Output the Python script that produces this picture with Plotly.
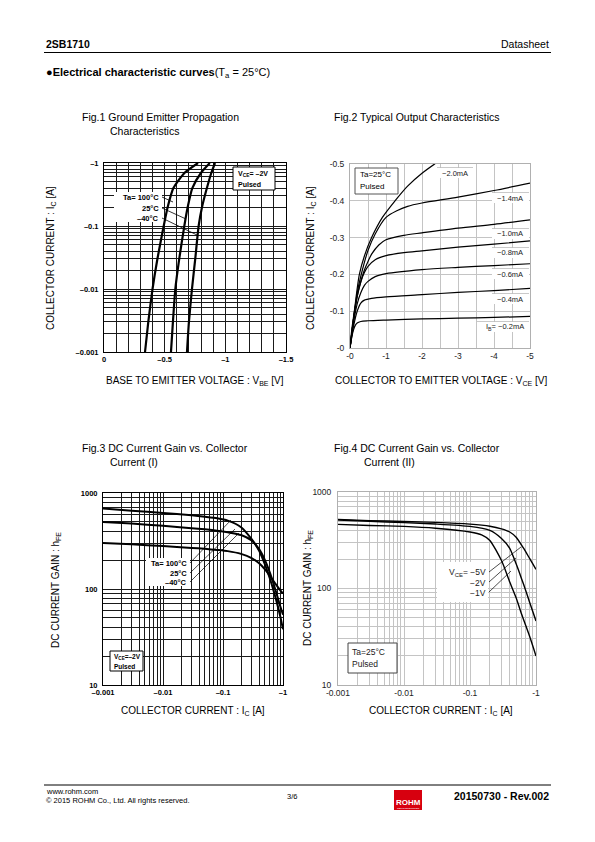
import plotly.graph_objects as go

# page offset: the browser places the figure 8px in from the top-left corner
OFF = 8
W, H = 595 - OFF, 842 - OFF
FONT = "Arial, Liberation Sans, sans-serif"


def X(px):
    return (px - OFF) / W


def Y(py):
    return 1 - (py - OFF) / H


# ---------------- DATA ----------------
# Fig.1 : |Ic| [A] vs |Vbe| [V]
fig1_ic = [0.001, 0.003, 0.01, 0.03, 0.1, 0.2, 0.4, 0.7, 1.0]
fig1_vbe_100 = [0.338, 0.365, 0.400, 0.440, 0.492, 0.525, 0.572, 0.665, 0.775]
fig1_vbe_25 = [0.552, 0.568, 0.588, 0.620, 0.662, 0.690, 0.728, 0.800, 0.872]
fig1_vbe_m40 = [0.684, 0.700, 0.725, 0.752, 0.780, 0.808, 0.848, 0.885, 0.915]

# Fig.2 : |Ic| [A] vs |Vce| [V] for several Ib
fig2_vce_02 = [0, 0.05, 0.1, 0.15, 0.2, 0.3, 0.5, 1, 2, 3, 4, 5]
fig2_ic_02 = [0, 0.03, 0.05, 0.062, 0.068, 0.072, 0.074, 0.076, 0.079, 0.081, 0.083, 0.086]
fig2_vce_04 = [0, 0.1, 0.2, 0.3, 0.4, 0.6, 1, 2, 3, 4, 5]
fig2_ic_04 = [0, 0.06, 0.10, 0.122, 0.130, 0.135, 0.139, 0.145, 0.151, 0.156, 0.162]
fig2_vce_06 = [0, 0.1, 0.2, 0.3, 0.4, 0.5, 0.7, 1, 2, 3, 4, 5]
fig2_ic_06 = [0, 0.07, 0.12, 0.15, 0.17, 0.181, 0.194, 0.202, 0.213, 0.219, 0.224, 0.229]
fig2_vce_08 = [0, 0.1, 0.2, 0.3, 0.4, 0.5, 0.7, 1, 1.5, 2, 3, 4, 5]
fig2_ic_08 = [0, 0.08, 0.14, 0.18, 0.205, 0.222, 0.240, 0.251, 0.259, 0.264, 0.274, 0.282, 0.291]
fig2_vce_10 = [0, 0.1, 0.2, 0.3, 0.4, 0.5, 0.6, 0.8, 1, 1.5, 2, 3, 4, 5]
fig2_ic_10 = [0, 0.08, 0.14, 0.18, 0.212, 0.235, 0.255, 0.280, 0.294, 0.306, 0.313, 0.326, 0.336, 0.348]
fig2_vce_14 = [0, 0.1, 0.2, 0.3, 0.5, 0.7, 1, 1.3, 1.6, 2, 3, 4, 5]
fig2_ic_14 = [0, 0.08, 0.15, 0.195, 0.265, 0.31, 0.355, 0.373, 0.385, 0.394, 0.410, 0.428, 0.448]
fig2_vce_20 = [0, 0.05, 0.12, 0.26, 0.4, 0.6, 0.9, 1.25, 1.6, 2.0, 2.35, 2.5]
fig2_ic_20 = [0, 0.05, 0.10, 0.20, 0.25, 0.30, 0.355, 0.40, 0.44, 0.475, 0.50, 0.51]

# Fig.3 : hFE vs |Ic| [A] (Vce = -2V)
fig3_ic = [0.001, 0.003, 0.01, 0.03, 0.05, 0.08, 0.12, 0.2, 0.3, 0.4, 0.5, 0.6, 0.7, 0.8, 0.9, 1.0]
fig3_hfe_100 = [690, 655, 620, 585, 565, 545, 515, 440, 330, 250, 180, 130, 95, 70, 52, 38]
fig3_hfe_25 = [500, 480, 455, 430, 418, 405, 390, 365, 320, 260, 200, 150, 112, 85, 66, 54]
fig3_hfe_m40 = [302, 292, 280, 268, 262, 255, 248, 232, 210, 185, 160, 138, 120, 107, 97, 90]

# Fig.4 : hFE vs |Ic| [A] (Ta = 25C)
fig4_ic_5 = [0.001, 0.003, 0.01, 0.03, 0.1, 0.2, 0.3, 0.4, 0.5, 0.64, 0.8, 1.0]
fig4_hfe_5 = [520, 505, 495, 485, 465, 442, 415, 385, 340, 265, 205, 158]
fig4_ic_2 = [0.001, 0.003, 0.01, 0.03, 0.1, 0.2, 0.3, 0.4, 0.5, 0.6, 0.7, 0.8, 1.0]
fig4_hfe_2 = [512, 497, 482, 466, 440, 400, 330, 261, 180, 128, 95, 72, 46]
fig4_ic_1 = [0.001, 0.003, 0.01, 0.03, 0.1, 0.15, 0.2, 0.3, 0.4, 0.5, 0.6, 0.8, 1.0]
fig4_hfe_1 = [462, 450, 440, 421, 385, 360, 315, 195, 117, 80, 55, 32, 20]

# tick labels
fig1_xticks = [0, 0.5, 1.0, 1.5]
fig1_xlabels = ["0", "\u20130.5", "\u20131", "\u20131.5"]
dec_ic = [0.001, 0.01, 0.1, 1]
dec_ic_labels_bold = ["\u20130.001", "\u20130.01", "\u20130.1", "\u20131"]
dec_ic_labels = ["-0.001", "-0.01", "-0.1", "-1"]
dec_hfe = [10, 100, 1000]
dec_hfe_labels = ["10", "100", "1000"]
fig2_xticks = [0, 1, 2, 3, 4, 5]
fig2_xlabels = ["-0", "-1", "-2", "-3", "-4", "-5"]
fig2_yticks = [0, 0.1, 0.2, 0.3, 0.4, 0.5]
fig2_ylabels = ["-0", "-0.1", "-0.2", "-0.3", "-0.4", "-0.5"]


# ---------------- helpers ----------------
def log_grid(lo_exp, hi_exp):
    vals = []
    for e in range(lo_exp, hi_exp):
        for m in range(1, 10):
            vals.append(round(m * 10 ** e, 10))
    vals.append(10 ** hi_exp)
    return vals


def labelled(vals, major, labels):
    out = []
    for v in vals:
        txt = ""
        for mv, ml in zip(major, labels):
            if abs(v - mv) < 1e-9 * max(1, mv):
                txt = ml
        out.append(txt)
    return out


def lin_grid(lo, hi, step):
    n = int(round((hi - lo) / step))
    return [round(lo + i * step, 6) for i in range(n + 1)]


fig = go.Figure()

# Fig.1 traces
for v in (fig1_vbe_100, fig1_vbe_25, fig1_vbe_m40):
    fig.add_trace(go.Scatter(x=v, y=fig1_ic, mode="lines", line=dict(color="black", width=2.2, shape="spline", smoothing=0.6),
                             xaxis="x", yaxis="y", showlegend=False, hoverinfo="skip"))
# Fig.2 traces
for vx, iy in ((fig2_vce_02, fig2_ic_02), (fig2_vce_04, fig2_ic_04), (fig2_vce_06, fig2_ic_06),
               (fig2_vce_08, fig2_ic_08), (fig2_vce_10, fig2_ic_10), (fig2_vce_14, fig2_ic_14),
               (fig2_vce_20, fig2_ic_20)):
    fig.add_trace(go.Scatter(x=vx, y=iy, mode="lines", line=dict(color="black", width=1.2, shape="spline", smoothing=0.8),
                             xaxis="x2", yaxis="y2", showlegend=False, hoverinfo="skip"))
# Fig.3 traces
for h in (fig3_hfe_100, fig3_hfe_25, fig3_hfe_m40):
    fig.add_trace(go.Scatter(x=fig3_ic, y=h, mode="lines", line=dict(color="black", width=2, shape="spline", smoothing=0.6),
                             xaxis="x3", yaxis="y3", showlegend=False, hoverinfo="skip"))
# Fig.4 traces
for ix, h in ((fig4_ic_5, fig4_hfe_5), (fig4_ic_2, fig4_hfe_2), (fig4_ic_1, fig4_hfe_1)):
    fig.add_trace(go.Scatter(x=ix, y=h, mode="lines", line=dict(color="black", width=1.4, shape="spline", smoothing=0.6),
                             xaxis="x4", yaxis="y4", showlegend=False, hoverinfo="skip"))

bold_tick = dict(family=FONT, size=7.5, color="black", weight="bold")
norm_tick = dict(family=FONT, size=8.5, color="#222")
dark = dict(showgrid=True, gridcolor="#1a1a1a", gridwidth=0.8, showline=True, mirror=True,
            linecolor="black", linewidth=1, zeroline=False, ticks="", fixedrange=True, automargin=False)
light = dict(showgrid=True, gridcolor="#c4c4c4", gridwidth=0.9, showline=True, mirror=True,
             linecolor="#b0b0b0", linewidth=1, zeroline=False, ticks="", fixedrange=True, automargin=False)

g1x = lin_grid(0, 1.5, 0.1)
g_ic = log_grid(-3, 0)
g_h = log_grid(1, 3)
g2x = lin_grid(0, 5, 0.5)

fig.update_layout(
    template="none",
    width=W, height=H, margin=dict(l=0, r=0, t=0, b=0, pad=0, autoexpand=False), autosize=False,
    paper_bgcolor="white", plot_bgcolor="white", showlegend=False,
    xaxis=dict(domain=[X(104), X(286)], range=[0, 1.5], anchor="y", tickvals=g1x,
               ticktext=labelled(g1x, fig1_xticks, fig1_xlabels), tickfont=bold_tick, **dark),
    yaxis=dict(domain=[Y(352), Y(163)], type="log", range=[-3, 0], anchor="x", tickvals=g_ic,
               ticktext=labelled(g_ic, dec_ic, dec_ic_labels_bold), tickfont=bold_tick,
               ticklabelstandoff=3, **dark),
    xaxis2=dict(domain=[X(350), X(530)], range=[0, 5], anchor="y2", tickvals=g2x,
                ticktext=labelled(g2x, fig2_xticks, fig2_xlabels), tickfont=norm_tick, **light),
    yaxis2=dict(domain=[Y(348), Y(164)], range=[0, 0.5], anchor="x2", tickvals=fig2_yticks,
                ticktext=fig2_ylabels, tickfont=norm_tick, ticklabelstandoff=3, **light),
    xaxis3=dict(domain=[X(103), X(283)], type="log", range=[-3, 0], anchor="y3", tickvals=g_ic,
                ticktext=labelled(g_ic, dec_ic, dec_ic_labels_bold), tickfont=bold_tick, **dark),
    yaxis3=dict(domain=[Y(685), Y(493)], type="log", range=[1, 3], anchor="x3", tickvals=g_h,
                ticktext=labelled(g_h, dec_hfe, dec_hfe_labels), tickfont=bold_tick,
                ticklabelstandoff=3, **dark),
    xaxis4=dict(domain=[X(338), X(536)], type="log", range=[-3, 0], anchor="y4", tickvals=g_ic,
                ticktext=labelled(g_ic, dec_ic, dec_ic_labels), tickfont=norm_tick, **light),
    yaxis4=dict(domain=[Y(685), Y(492)], type="log", range=[1, 3], anchor="x4", tickvals=g_h,
                ticktext=labelled(g_h, dec_hfe, dec_hfe_labels), tickfont=norm_tick,
                ticklabelstandoff=4, **light),
)

anns = []
shapes = []


def ann(x, y, text, size=10, bold=False, xanchor="left", yanchor="middle", color="black", angle=0, align="left"):
    anns.append(dict(x=X(x), y=Y(y), xref="paper", yref="paper", text=text, showarrow=False,
                     xanchor=xanchor, yanchor=yanchor, textangle=angle, align=align,
                     font=dict(family=FONT, size=size, color=color, weight="bold" if bold else "normal")))


def rect(x0, y0, x1, y1, fill="white", line="black", lw=1):
    shapes.append(dict(type="rect", xref="paper", yref="paper", x0=X(x0), x1=X(x1), y0=Y(y1), y1=Y(y0),
                       fillcolor=fill, line=dict(color=line, width=lw), layer="above"))


def seg(x0, y0, x1, y1, color="black", lw=0.8):
    shapes.append(dict(type="line", xref="paper", yref="paper", x0=X(x0), x1=X(x1), y0=Y(y0), y1=Y(y1),
                       line=dict(color=color, width=lw), layer="above"))


# header
ann(44, 44, "2SB1710", size=10.5, bold=True)
ann(551, 44, "Datasheet", size=10.5, xanchor="right")
seg(44, 52.5, 551, 52.5, lw=1)
ann(44, 73, "\u25cf<b>Electrical characteristic curves</b>(T<sub>a</sub> = 25\u00b0C)", size=11)

# figure titles
ann(80, 117, "Fig.1 Ground Emitter Propagation", size=10.5)
ann(108, 131, "Characteristics", size=10.5)
ann(332, 117, "Fig.2 Typical Output Characteristics", size=10.5)
ann(80, 448, "Fig.3 DC Current Gain vs. Collector", size=10.5)
ann(108, 462, "Current (I)", size=10.5)
ann(332, 448, "Fig.4 DC Current Gain vs. Collector", size=10.5)
ann(362, 462, "Current (II)", size=10.5)

# axis titles
ann(51, 258, "COLLECTOR CURRENT : I<sub>C</sub> [A]", size=10, xanchor="center", angle=-90)
ann(195, 381, "BASE TO EMITTER VOLTAGE : V<sub>BE</sub> [V]", size=10, xanchor="center")
ann(311, 258, "COLLECTOR CURRENT : I<sub>C</sub> [A]", size=10, xanchor="center", angle=-90)
ann(441, 381, "COLLECTOR TO EMITTER VOLTAGE : V<sub>CE</sub> [V]", size=10, xanchor="center")
ann(56, 590, "DC CURRENT GAIN : h<sub>FE</sub>", size=10, xanchor="center", angle=-90)
ann(193, 711, "COLLECTOR CURRENT : I<sub>C</sub> [A]", size=10, xanchor="center")
ann(308, 588, "DC CURRENT GAIN : h<sub>FE</sub>", size=10, xanchor="center", angle=-90)
ann(441, 711, "COLLECTOR CURRENT : I<sub>C</sub> [A]", size=10, xanchor="center")

# Fig.1 boxes
rect(233, 167, 275, 190, lw=1)
ann(236, 174, "V<sub>CE</sub>= \u20132V", size=7, bold=True)
ann(236, 184, "Pulsed", size=7, bold=True)
rect(114, 192, 162, 222, line="white", lw=0)
ann(161, 197, "Ta= 100\u00b0C", size=7.5, bold=True, xanchor="right")
ann(161, 208, "25\u00b0C", size=7.5, bold=True, xanchor="right")
ann(161, 218, "\u201340\u00b0C", size=7.5, bold=True, xanchor="right")
seg(162, 197, 173, 202)
seg(162, 208, 186, 219)
seg(162, 218, 197, 235)

# Fig.2 boxes
rect(355, 168, 398, 194, line="#555", lw=1)
ann(358, 175, "Ta=25\u00b0C", size=8)
ann(358, 186, "Pulsed", size=8)
fig2_lbls = [(455, 173, "\u22122.0mA", 437, 473), (510, 198, "\u22121.4mA", 492, 529),
             (510, 234, "\u22121.0mA", 492, 529), (510, 253, "\u22120.8mA", 492, 529),
             (510, 274, "\u22120.6mA", 492, 529), (510, 299, "\u22120.4mA", 492, 529),
             (505, 327, "I<sub>B</sub>= \u22120.2mA", 477, 529)]
for cx, cy, t, x0, x1 in fig2_lbls:
    rect(x0, cy - 5, x1, cy + 5, line="white", lw=0)
    seg(x0, cy - 5.5, x1, cy - 5.5, color="#bbb", lw=0.8)
    ann(cx, cy, t, size=7.5, xanchor="center", color="#222")

# Fig.3 boxes
rect(146, 558, 190, 586, line="white", lw=0)
ann(189, 563, "Ta= 100\u00b0C", size=7.5, bold=True, xanchor="right")
ann(189, 573, "25\u00b0C", size=7.5, bold=True, xanchor="right")
ann(189, 582, "\u201340\u00b0C", size=7.5, bold=True, xanchor="right")
seg(190, 563, 231, 520, lw=0.7)
seg(190, 573, 235, 529, lw=0.7)
seg(190, 582, 239, 533, lw=0.7)
rect(110, 651, 143, 671, lw=1)
ann(111.5, 657, "V<sub>CE</sub>=\u20132V", size=6.5, bold=True)
ann(111.5, 666, "Pulsed", size=6.5, bold=True)

# Fig.4 boxes
rect(437, 562, 488, 602, line="white", lw=0)
ann(488, 572, "V<sub>CE</sub>= \u22125V", size=8.5, xanchor="right", color="#222")
ann(488, 583, "\u22122V", size=8.5, xanchor="right", color="#222")
ann(488, 593, "\u22121V", size=8.5, xanchor="right", color="#222")
seg(489, 572, 521, 547, lw=0.7)
seg(489, 582, 516, 558, lw=0.7)
seg(489, 592, 511, 571, lw=0.7)
rect(348, 643, 397, 673, line="#444", lw=1)
ann(350, 652, "Ta=25\u00b0C", size=8.5, color="#222")
ann(350, 664, "Pulsed", size=8.5, color="#222")

# footer
seg(44, 785, 551, 785, lw=1)
ann(44, 791, "www.rohm.com", size=7.5)
ann(44, 800, "\u00a9 2015 ROHM Co., Ltd. All rights reserved.", size=7.5)
ann(285, 796, "3/6", size=7.5)
rect(394, 790, 422, 810, fill="#d7000f", line="#d7000f", lw=0)
ann(408, 802, "ROHM", size=8, bold=True, xanchor="center", color="white")
ann(408, 808.5, "SEMICONDUCTOR", size=2.5, xanchor="center", color="white")
ann(551, 796, "20150730 - Rev.002", size=10.5, bold=True, xanchor="right")

fig.update_layout(annotations=anns, shapes=shapes)
fig.write_html("out.html")
